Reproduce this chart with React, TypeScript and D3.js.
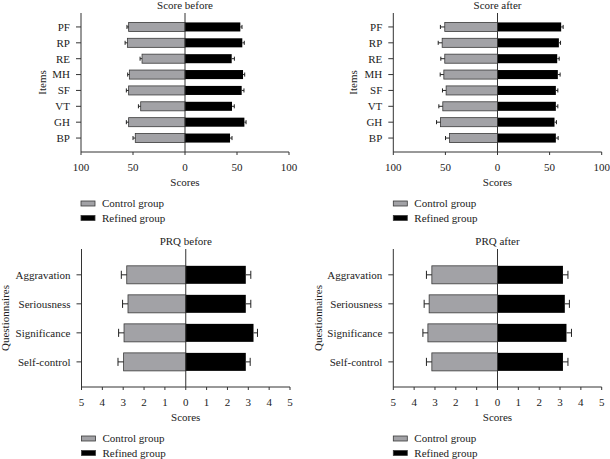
import * as d3 from 'd3'

// Score items (SF-36 style)
const items = ['PF', 'RP', 'RE', 'MH', 'SF', 'VT', 'GH', 'BP']
const beforeControl = [54.2, 55.4, 41.3, 53.5, 54.2, 42.6, 54.2, 47.8]
const beforeControlErr = [1.6, 2.2, 1.9, 1.6, 2.2, 2.2, 2.2, 2.2]
const beforeRefined = [53.2, 55.1, 44.9, 55.8, 54.5, 45.2, 57.1, 43.3]
const beforeRefinedErr = [1.6, 1.9, 2.6, 1.6, 2.2, 2.2, 1.6, 1.9]
const afterControl = [50.6, 53.1, 50.6, 51.5, 49.3, 52.5, 54.7, 46.1]
const afterControlErr = [4.2, 3.8, 3.8, 3.5, 3.5, 3.8, 3.8, 3.8]
const afterRefined = [61.1, 58.9, 57.3, 57.9, 56.0, 56.0, 54.7, 56.0]
const afterRefinedErr = [1.9, 1.6, 1.9, 2.2, 1.9, 1.9, 1.9, 2.2]
const scoreTicks = [100, 50, 0, 50, 100]

// PRQ questionnaires
const questionnaires = ['Aggravation', 'Seriousness', 'Significance', 'Self-control']
const prqBeforeControl = [2.83, 2.77, 2.96, 2.98]
const prqBeforeControlErr = [0.26, 0.26, 0.26, 0.27]
const prqBeforeRefined = [2.88, 2.88, 3.25, 2.88]
const prqBeforeRefinedErr = [0.24, 0.24, 0.19, 0.21]
const prqAfterControl = [3.15, 3.28, 3.34, 3.15]
const prqAfterControlErr = [0.26, 0.24, 0.24, 0.26]
const prqAfterRefined = [3.14, 3.23, 3.31, 3.14]
const prqAfterRefinedErr = [0.24, 0.22, 0.24, 0.24]
const prqTicks = [5, 4, 3, 2, 1, 0, 1, 2, 3, 4, 5]

const legendLabels = ['Control group', 'Refined group']

const FONT = "'Liberation Serif', 'Times New Roman', 'DejaVu Serif', serif"
const CONTROL_FILL = '#a2a2a6'
const REFINED_FILL = '#000000'
const AXIS = '#333333'

function Panel({ x0, x1, y0, y1, bandTop, bandBottom, padding, title, cats, control, controlErr, refined, refinedErr, max, ticks, yLabel, yLabelOffset }) {
  const x = d3.scaleLinear().domain([-max, max]).range([x0, x1])
  const y = d3.scaleBand().domain(cats).range([bandTop, bandBottom]).padding(padding)
  const bh = y.bandwidth()
  const cap = bh * 0.45
  const tickVals = d3.range(ticks.length).map(i => -max + (2 * max * i) / (ticks.length - 1))
  const zx = x(0)

  return (
    <g style={{ fontFamily: FONT, fontSize: '11px' }} fill="#222">
      <text x={zx} y={y0 - 4.5} textAnchor="middle">{title}</text>

      {cats.map((c, i) => {
        const cy = y(c)
        const cx = x(-control[i])
        const rx = x(refined[i])
        const ce = x(-control[i] - controlErr[i])
        const re = x(refined[i] + refinedErr[i])
        const mid = cy + bh / 2
        return (
          <g key={c}>
            <rect x={cx} y={cy} width={zx - cx} height={bh} fill={CONTROL_FILL} stroke="#3a3a3a" strokeWidth={0.8} />
            <rect x={zx} y={cy} width={rx - zx} height={bh} fill={REFINED_FILL} />
            <line x1={cx} x2={ce} y1={mid} y2={mid} stroke="#222" strokeWidth={1} />
            <line x1={ce} x2={ce} y1={mid - cap / 2} y2={mid + cap / 2} stroke="#222" strokeWidth={1} />
            <line x1={rx} x2={re} y1={mid} y2={mid} stroke="#222" strokeWidth={1} />
            <line x1={re} x2={re} y1={mid - cap / 2} y2={mid + cap / 2} stroke="#222" strokeWidth={1} />
            <line x1={x0 - 5} x2={x0} y1={mid} y2={mid} stroke={AXIS} strokeWidth={1} />
            <text x={x0 - 11} y={mid} dy="0.35em" textAnchor="end">{c}</text>
          </g>
        )
      })}

      <line x1={zx} x2={zx} y1={y0} y2={y1} stroke={AXIS} strokeWidth={1} />
      <line x1={x0} x2={x0} y1={y0} y2={y1} stroke={AXIS} strokeWidth={1} />
      <line x1={x0} x2={x1} y1={y1} y2={y1} stroke={AXIS} strokeWidth={1} />

      {tickVals.map((v, i) => (
        <g key={i}>
          <line x1={x(v)} x2={x(v)} y1={y1} y2={y1 + 3} stroke={AXIS} strokeWidth={1} />
          <text x={x(v)} y={y1 + 18.5} textAnchor="middle">{ticks[i]}</text>
        </g>
      ))}
      <text x={zx} y={y1 + 34} textAnchor="middle">Scores</text>

      <text transform={`translate(${x0 - yLabelOffset},${(y0 + y1) / 2}) rotate(-90)`} textAnchor="middle" dy="0.35em">{yLabel}</text>

      {legendLabels.map((l, i) => (
        <g key={l}>
          <rect x={x0} y={y1 + 49 + i * 14.5} width={14} height={5} fill={i === 0 ? CONTROL_FILL : REFINED_FILL} stroke="#3a3a3a" strokeWidth={0.8} />
          <text x={x0 + 21} y={y1 + 51.5 + i * 14.5} dy="0.35em">{l}</text>
        </g>
      ))}
    </g>
  )
}

export default function App() {
  return (
    <svg width={610} height={459} style={{ position: 'absolute', left: 0, top: 0, background: '#fff' }}>
      <Panel x0={81} x1={289} y0={13} y1={152} bandTop={15.6} bandBottom={149.4} padding={0.43}
        title="Score before" cats={items} control={beforeControl} controlErr={beforeControlErr}
        refined={beforeRefined} refinedErr={beforeRefinedErr} max={100} ticks={scoreTicks}
        yLabel="Items" yLabelOffset={39} />
      <Panel x0={393.3} x1={601.7} y0={13} y1={152} bandTop={15.6} bandBottom={149.4} padding={0.43}
        title="Score after" cats={items} control={afterControl} controlErr={afterControlErr}
        refined={afterRefined} refinedErr={afterRefinedErr} max={100} ticks={scoreTicks}
        yLabel="Items" yLabelOffset={40} />
      <Panel x0={81.5} x1={290} y0={249} y1={387} bandTop={254.8} bandBottom={381.9} padding={0.38}
        title="PRQ before" cats={questionnaires} control={prqBeforeControl} controlErr={prqBeforeControlErr}
        refined={prqBeforeRefined} refinedErr={prqBeforeRefinedErr} max={5} ticks={prqTicks}
        yLabel="Questionnaires" yLabelOffset={76} />
      <Panel x0={393.3} x1={601.7} y0={249} y1={387} bandTop={254.8} bandBottom={381.9} padding={0.38}
        title="PRQ after" cats={questionnaires} control={prqAfterControl} controlErr={prqAfterControlErr}
        refined={prqAfterRefined} refinedErr={prqAfterRefinedErr} max={5} ticks={prqTicks}
        yLabel="Questionnaires" yLabelOffset={75} />
    </svg>
  )
}
